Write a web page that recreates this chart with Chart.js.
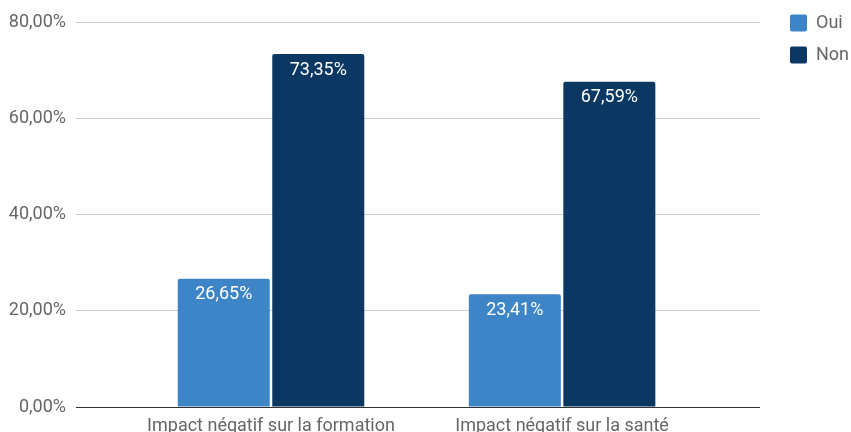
<!DOCTYPE html>
<html>
<head>
<meta charset="utf-8">
<script src="https://cdn.jsdelivr.net/npm/chart.js@4"></script>
<style>
  html, body { margin: 0; padding: 0; background: #fff; }
  #wrap { width: 851px; height: 432px; }
</style>
</head>
<body>
<div id="wrap"><canvas id="chart" width="851" height="432"></canvas></div>
<script>
const categories = ['Impact négatif sur la formation', 'Impact négatif sur la santé'];
const ouiValues = [26.65, 23.41];
const nonValues = [73.35, 67.59];
const yTicks = [0, 20, 40, 60, 80];

const fmt = (v) => v.toFixed(2).replace('.', ',') + '%';
const toPoints = (arr) => arr.map((y, i) => ({ x: i, y }));

Chart.defaults.font.family = 'Roboto';
Chart.defaults.font.size = 18;
Chart.defaults.color = '#666';

// white value labels inside the top of each bar
const barLabels = {
  id: 'barLabels',
  afterDatasetsDraw(chart) {
    const { ctx } = chart;
    ctx.save();
    ctx.fillStyle = '#fff';
    ctx.font = '18px Roboto';
    ctx.textAlign = 'center';
    ctx.textBaseline = 'middle';
    chart.data.datasets.forEach((ds, di) => {
      chart.getDatasetMeta(di).data.forEach((bar, i) => {
        ctx.fillText(fmt(ds.data[i].y), bar.x, bar.y + 16);
      });
    });
    ctx.restore();
  }
};

// nudge legend right so it sits like the original
const legendShift = {
  id: 'legendShift',
  afterLayout(chart) {
    chart.legend.left += 16;
    chart.legend.right += 16;
  }
};

new Chart(document.getElementById('chart'), {
  type: 'bar',
  data: {
    datasets: [
      { label: 'Oui', data: toPoints(ouiValues), backgroundColor: '#3d85c6' },
      { label: 'Non', data: toPoints(nonValues), backgroundColor: '#0b3763' }
    ]
  },
  options: {
    responsive: false,
    animation: false,
    layout: { padding: 0 },
    datasets: {
      bar: {
        categoryPercentage: 0.6494,
        barPercentage: 0.9735,
        borderRadius: { topLeft: 2, topRight: 2 },
        borderSkipped: 'start'
      }
    },
    plugins: {
      legend: {
        position: 'right',
        align: 'start',
        labels: {
          boxWidth: 17,
          boxHeight: 17,
          padding: 14,
          useBorderRadius: true,
          borderRadius: 2,
          color: '#666'
        }
      },
      tooltip: { enabled: false }
    },
    scales: {
      x: {
        type: 'linear',
        offset: false,
        min: -0.67,
        max: 1.68,
        grid: { display: false, drawTicks: false, offset: false },
        border: { display: false },
        afterBuildTicks: (scale) => { scale.ticks = categories.map((c, i) => ({ value: i })); },
        afterFit: (scale) => { scale.height = 25; scale.paddingRight = 91; },
        ticks: {
          padding: 9,
          color: '#666',
          callback: (v) => categories[v]
        }
      },
      y: {
        min: 0,
        max: 80,
        afterBuildTicks: (scale) => { scale.ticks = yTicks.map((v) => ({ value: v })); },
        afterFit: (scale) => { scale.width = 76; scale.paddingTop = 22; },
        grid: {
          drawTicks: false,
          color: (ctx) => ctx.tick && ctx.tick.value === 0 ? '#333' : '#ccc'
        },
        border: { display: false },
        ticks: {
          padding: 10,
          color: '#666',
          callback: (v) => fmt(v)
        }
      }
    }
  },
  plugins: [barLabels, legendShift]
});
</script>
</body>
</html>
